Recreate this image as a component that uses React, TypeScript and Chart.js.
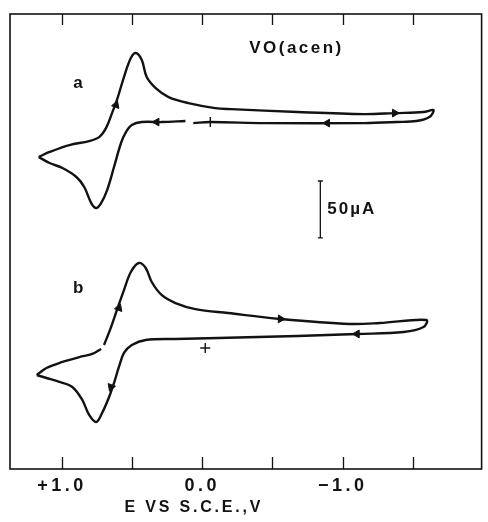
import React, { useEffect, useRef } from "react";
import { Chart, registerables } from "chart.js";
Chart.register(...registerables);

// Axis ticks (potential, V vs S.C.E.)
const TICK_VALUES = [1.0, 0.5, 0.0, -0.5, -1.0, -1.5];
const TICK_LABELS = ["+1.0", "", "0.0", "", "\u22121.0", ""];
const X_TITLE = "E VS S.C.E.,V";

// Curve a (potential V, current µA with arbitrary offset); null = gap in trace
const A_E = [1.166, 1.088, 0.947, 0.806, 0.735, 0.686, 0.643, 0.608, 0.558, 0.509,
  0.473, 0.431, 0.396, 0.332, 0.240, 0.099, -0.092, -0.205, -0.678, -1.152,
  -1.371, -1.576, -1.647, -1.618, -1.526, -1.385, -1.152, -0.445, -0.057, 0.064,
  null, 0.120, 0.290, 0.431, 0.502, 0.544, 0.579, 0.629, 0.678, 0.721, 0.756,
  0.791, 0.841, 0.897, 0.996, 1.088, 1.166];
const A_I = [274.3, 278.7, 284.8, 288.3, 291.8, 299.7, 312.9, 324.4, 344.6, 361.3,
  365.7, 359.5, 344.6, 334.9, 327.0, 321.7, 317.3, 316.4, 313.8, 312.0,
  312.9, 313.8, 315.6, 309.4, 305.9, 305.0, 304.1, 304.1, 305.0, 304.1,
  null, 305.9, 305.0, 305.0, 302.4, 296.2, 286.6, 265.5, 245.2, 233.8, 229.4,
  233.8, 247.9, 256.7, 264.6, 269.0, 274.3];

// Curve b
const B_E = [1.180, 1.110, 0.996, 0.876, 0.784, 0.721, null, 0.700, 0.650, 0.608,
  0.558, 0.509, 0.452, 0.403, 0.360, 0.290, 0.191, 0.049, -0.184, -0.558,
  -1.053, -1.265, -1.597, -1.576, -1.435, -1.102, -0.678, -0.113, 0.191, 0.403,
  0.502, 0.558, 0.594, 0.629, 0.664, 0.714, 0.756, 0.806, 0.855, 0.926,
  1.018, 1.110, 1.180];
const B_I = [82.6, 88.8, 94.1, 98.4, 101.1, 105.5, null, 109.0, 124.8, 139.8,
  157.3, 173.2, 181.1, 176.7, 164.4, 153.0, 145.9, 140.6, 137.1, 131.9,
  127.5, 128.3, 131.0, 124.8, 120.4, 118.7, 116.9, 115.2, 114.3, 113.4,
  109.0, 102.0, 89.7, 75.6, 63.3, 49.2, 41.3, 47.5, 60.7, 72.1,
  76.5, 80.0, 82.6];

// Scan-direction arrows
const ARROW_E = [0.615, -1.371, -0.890, 0.325, 0.594, -0.558, -1.102, 0.650];
const ARROW_I = [320.0, 312.9, 304.1, 305.0, 141.5, 131.9, 118.7, 72.1];
const ARROW_DIR = [20, 90, 270, 270, 20, 92, 270, 200];

// Starting-potential "+" marks
const START_E = [-0.057, -0.021];
const START_I = [305.0, 106.4];

// 50 µA scale bar
const BAR_E = [-0.841, -0.841];
const BAR_I = [203.1, 253.2];
const BAR_LABEL = "50\u00b5A";

// Text annotations
const NOTE_TEXT = ["VO(acen)", "a", "b"];
const NOTE_E = [-0.671, 0.876, 0.876];
const NOTE_I = [370.1, 339.3, 159.1];

const INK = "#121212";
const FONT = "'Liberation Sans', Arial, sans-serif";

const pts = (xs: (number | null)[], ys: (number | null)[]) =>
  xs.map((x, i) => ({ x: x === null ? NaN : x, y: ys[i] === null ? NaN : (ys[i] as number) }));

const decorPlugin = {
  id: "decor",
  beforeDraw(chart: any) {
    chart.ctx.letterSpacing = "3.5px";
  },
  afterDraw(chart: any) {
    const { ctx, chartArea, scales } = chart;
    const { left, right, top, bottom } = chartArea;
    const x = scales.x;
    const y = scales.y;
    ctx.save();
    ctx.strokeStyle = INK;
    ctx.lineWidth = 1.6;
    ctx.strokeRect(left, top, right - left, bottom - top);
    ctx.lineWidth = 1.3;
    for (const v of TICK_VALUES) {
      const px = Math.round(x.getPixelForValue(v)) + 0.5;
      ctx.beginPath();
      ctx.moveTo(px, bottom);
      ctx.lineTo(px, bottom - 12);
      ctx.moveTo(px, top);
      ctx.lineTo(px, top + 11);
      ctx.stroke();
    }
    ctx.fillStyle = INK;
    ctx.textBaseline = "middle";
    // notes
    ctx.textAlign = "center";
    ctx.font = `bold 17px ${FONT}`;
    ctx.letterSpacing = "2.5px";
    NOTE_TEXT.forEach((t, i) => {
      ctx.fillText(t, x.getPixelForValue(NOTE_E[i]), y.getPixelForValue(NOTE_I[i]));
    });
    // scale bar label
    ctx.textAlign = "left";
    ctx.letterSpacing = "2px";
    ctx.fillText(BAR_LABEL, x.getPixelForValue(BAR_E[0]) + 7, y.getPixelForValue((BAR_I[0] + BAR_I[1]) / 2));
    // axis title
    ctx.textAlign = "center";
    ctx.font = `bold 16px ${FONT}`;
    ctx.letterSpacing = "2.8px";
    ctx.fillText(X_TITLE, x.getPixelForValue(0.06), bottom + 39);
    ctx.restore();
    ctx.letterSpacing = "0px";
  },
};

export default function App() {
  const ref = useRef<HTMLCanvasElement>(null);
  useEffect(() => {
    if (!ref.current) return;
    const lineDs = (label: string, data: any[]) => ({
      label,
      data,
      showLine: true,
      borderColor: INK,
      borderWidth: 2.4,
      pointRadius: 0,
      tension: 0.35,
      spanGaps: false,
      fill: false,
    });
    const chart = new Chart(ref.current, {
      type: "scatter",
      data: {
        datasets: [
          lineDs("a", pts(A_E, A_I)),
          lineDs("b", pts(B_E, B_I)),
          {
            label: "arrows",
            data: pts(ARROW_E, ARROW_I),
            showLine: false,
            pointStyle: "triangle",
            pointRadius: 4.5,
            pointRotation: ARROW_DIR,
            backgroundColor: INK,
            borderColor: INK,
            borderWidth: 1,
          } as any,
          {
            label: "start",
            data: pts(START_E, START_I),
            showLine: false,
            pointStyle: "cross",
            pointRadius: 5,
            borderColor: INK,
            borderWidth: 1.4,
          } as any,
          {
            label: "bar",
            data: pts(BAR_E, BAR_I),
            showLine: true,
            borderColor: INK,
            borderWidth: 1.3,
            pointStyle: "line",
            pointRadius: 2.5,
            pointBorderColor: INK,
            pointBorderWidth: 1.3,
            tension: 0,
          } as any,
        ],
      },
      options: {
        animation: false,
        responsive: false,
        events: [],
        layout: { padding: { left: 10, right: 3, top: 14, bottom: 0 } },
        plugins: { legend: { display: false }, tooltip: { enabled: false } },
        scales: {
          x: {
            type: "linear",
            reverse: true,
            min: -1.99,
            max: 1.37,
            grid: { display: false, drawTicks: false },
            border: { display: false },
            afterBuildTicks: (scale: any) => {
              scale.ticks = TICK_VALUES.map((v) => ({ value: v }));
            },
            afterFit: (scale: any) => {
              scale.height = 53;
            },
            ticks: {
              autoSkip: false,
              maxRotation: 0,
              padding: 6,
              color: INK,
              font: { family: FONT, size: 18, weight: "bold" },
              callback: (_v: any, i: number) => TICK_LABELS[i],
            },
          },
          y: { display: false, min: 0, max: 400 },
        },
      },
      plugins: [decorPlugin],
    } as any);
    return () => chart.destroy();
  }, []);
  return (
    <div style={{ position: "absolute", left: 0, top: 0, width: 488, height: 522, background: "#fff" }}>
      <canvas ref={ref} width={488} height={522} style={{ display: "block" }} />
    </div>
  );
}
